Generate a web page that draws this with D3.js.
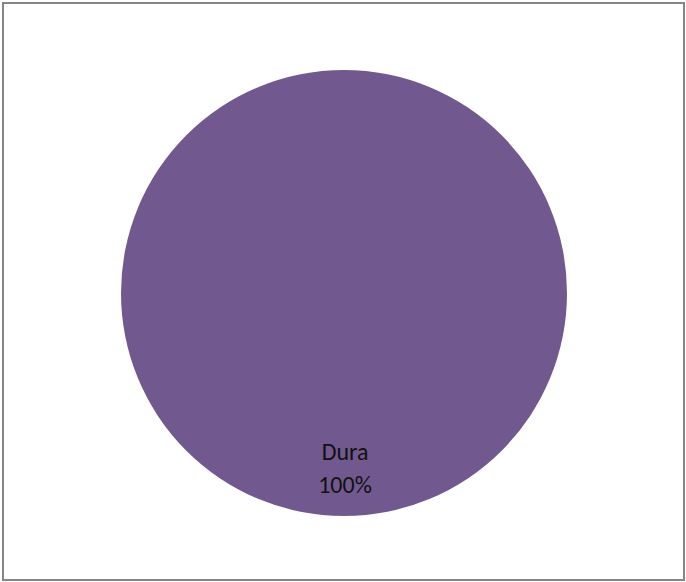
<!DOCTYPE html>
<html>
<head>
<meta charset="utf-8">
<script src="https://cdn.jsdelivr.net/npm/d3@7"></script>
<style>
  html, body { margin: 0; padding: 0; background: #fff; }
  svg { display: block; }
</style>
</head>
<body>
<svg id="chart" width="686" height="582"></svg>
<script>
// Slice data
const categories = ["Dura"];
const values = [100];
const colors = ["#71588f"];

const svg = d3.select("#chart");
const W = 686, H = 582;

// Chart frame
svg.append("rect")
  .attr("x", 3).attr("y", 3)
  .attr("width", W - 5).attr("height", H - 5)
  .attr("fill", "#fff")
  .attr("stroke", "#868686")
  .attr("stroke-width", 2);

const cx = 344, cy = 293, r = 223;
const g = svg.append("g").attr("transform", `translate(${cx},${cy})`);

const data = categories.map((c, i) => ({ name: c, value: values[i], color: colors[i] }));
const pie = d3.pie().value(d => d.value).sort(null);
const arcs = pie(data);
const total = d3.sum(values);

const arc = d3.arc().innerRadius(0).outerRadius(r);

g.selectAll("path.slice")
  .data(arcs)
  .join("path")
  .attr("class", "slice")
  .attr("d", arc)
  .attr("fill", d => d.data.color);

// Labels: category and percentage, placed below centre for a full circle
const fmt = d3.format(".0%");
const labels = g.selectAll("text.lbl")
  .data(arcs)
  .join("text")
  .attr("class", "lbl")
  .attr("text-anchor", "middle")
  .attr("font-family", "Carlito, Lato, 'Open Sans', sans-serif")
  .attr("font-size", 24)
  .attr("fill", "#111")
  .attr("transform", d => {
    const full = (d.endAngle - d.startAngle) >= 2 * Math.PI - 1e-6;
    if (full) return `translate(1, ${167})`;
    const [x, y] = d3.arc().innerRadius(r * 0.6).outerRadius(r * 0.6).centroid(d);
    return `translate(${x},${y})`;
  });

labels.append("tspan").attr("x", 0).attr("y", 0).text(d => d.data.name);
labels.append("tspan").attr("x", 0).attr("y", 33).text(d => fmt(d.data.value / total));
</script>
</body>
</html>
